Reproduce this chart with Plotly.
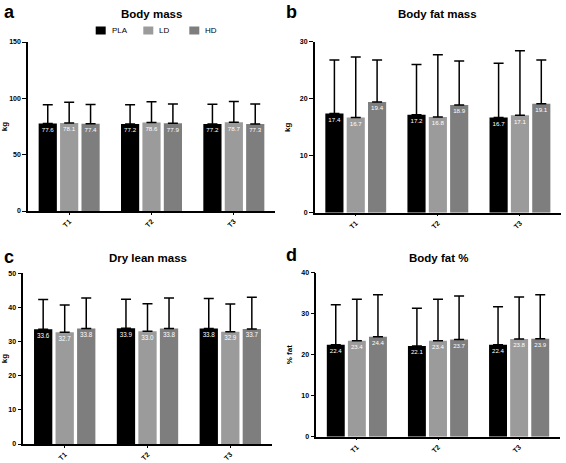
import plotly.graph_objects as go

times = ["T1", "T2", "T3"]
groups = ["PLA", "LD", "HD"]
colors = {"PLA": "#000000", "LD": "#9b9b9b", "HD": "#7e7e7e"}

# Body mass (kg)
bm_mean = {"PLA": [77.6, 77.2, 77.2], "LD": [78.1, 78.6, 78.7], "HD": [77.4, 77.9, 77.3]}
bm_sd = {"PLA": [16.6, 17.0, 17.6], "LD": [18.4, 18.4, 18.6], "HD": [17.1, 17.1, 17.7]}
# Body fat mass (kg)
bf_mean = {"PLA": [17.4, 17.2, 16.7], "LD": [16.7, 16.8, 17.1], "HD": [19.4, 18.9, 19.1]}
bf_sd = {"PLA": [9.4, 8.8, 9.5], "LD": [10.6, 10.9, 11.3], "HD": [7.4, 7.7, 7.7]}
# Dry lean mass (kg)
dl_mean = {"PLA": [33.6, 33.9, 33.8], "LD": [32.7, 33.0, 32.9], "HD": [33.8, 33.8, 33.7]}
dl_sd = {"PLA": [8.7, 8.5, 8.8], "LD": [8.0, 8.1, 8.1], "HD": [9.0, 9.0, 9.3]}
# Body fat %
pf_mean = {"PLA": [22.4, 22.1, 22.4], "LD": [23.4, 23.4, 23.8], "HD": [24.4, 23.7, 23.9]}
pf_sd = {"PLA": [9.8, 9.2, 9.3], "LD": [10.1, 10.1, 10.3], "HD": [10.2, 10.6, 10.7]}

W, H = 566, 463


def px(x):
    return x / W


def py(y):
    return 1 - y / H


panels = [
    dict(title="Body mass", mean=bm_mean, sd=bm_sd, ytitle="kg", yrange=[0, 150], dtick=50,
         xd=[px(28), px(275)], yd=[py(211), py(42)], ty=14),
    dict(title="Body fat mass", mean=bf_mean, sd=bf_sd, ytitle="kg", yrange=[0, 30], dtick=10,
         xd=[px(314.7), px(561)], yd=[py(212.7), py(41.7)], ty=14),
    dict(title="Dry lean mass", mean=dl_mean, sd=dl_sd, ytitle="kg", yrange=[0, 50], dtick=10,
         xd=[px(23.3), px(271.7)], yd=[py(444), py(273.3)], ty=258),
    dict(title="Body fat %", mean=pf_mean, sd=pf_sd, ytitle="% fat", yrange=[0, 40], dtick=10,
         xd=[px(316.3), px(559.7)], yd=[py(436.7), py(272.7)], ty=258),
]

FONT = "Liberation Sans"
fig = go.Figure()
annotations = []
shapes = []
for i, p in enumerate(panels):
    k = "" if i == 0 else str(i + 1)
    for g in groups:
        fig.add_trace(go.Bar(
            x=times, y=p["mean"][g], name=g,
            marker=dict(color=colors[g], line=dict(width=0)),
            error_y=dict(type="data", array=p["sd"][g], symmetric=False, arrayminus=[0, 0, 0],
                         color="#000000", thickness=1.5, width=5),
            text=[f"{v:.1f}" for v in p["mean"][g]],
            textposition="inside", insidetextanchor="end", textangle=0,
            textfont=dict(color="white", size=7, family=FONT),
            showlegend=False, hoverinfo="skip",
            xaxis="x" + k, yaxis="y" + k,
        ))
    fig.layout["xaxis" + k] = dict(
        domain=p["xd"], anchor="y" + k, range=[-0.5, 2.5], showline=True, linecolor="black", linewidth=1.5,
        ticks="outside", ticklen=2, tickcolor="black", tickwidth=1.2, tickangle=-45,
        tickfont=dict(family=FONT, size=7, color="black", weight="bold"), showgrid=False, zeroline=False)
    fig.layout["yaxis" + k] = dict(
        domain=p["yd"], anchor="x" + k, range=p["yrange"], dtick=p["dtick"], showline=True, linecolor="black",
        linewidth=1.5, ticks="outside", ticklen=4, tickcolor="black", tickwidth=1.2,
        tickfont=dict(family=FONT, size=7, color="black", weight="bold"), showgrid=False, zeroline=False,
        title=dict(text=p["ytitle"], font=dict(family=FONT, size=8, color="black", weight="bold"), standoff=8))
    xc = (p["xd"][0] + p["xd"][1]) / 2
    annotations.append(dict(text=p["title"], x=xc, y=py(p["ty"]), xref="paper", yref="paper",
                            showarrow=False, xanchor="center", yanchor="middle",
                            font=dict(family=FONT, size=11.5, color="black", weight="bold")))

letters = [("a", 2, 0), ("b", 284, 0), ("c", 2, 245), ("d", 284, 243)]
for t, x, y in letters:
    annotations.append(dict(text=t, x=px(x), y=py(y), xref="paper", yref="paper", showarrow=False,
                            xanchor="left", yanchor="top",
                            font=dict(family=FONT, size=18, color="black", weight="bold")))

# manual legend for panel a
legend_items = [("PLA", 95.7), ("LD", 143.3), ("HD", 189.3)]
for name, x0 in legend_items:
    shapes.append(dict(type="rect", xref="paper", yref="paper", x0=px(x0), x1=px(x0 + 10),
                       y0=py(34.5), y1=py(26.5), fillcolor=colors[name], line=dict(width=0)))
    annotations.append(dict(text=name, x=px(x0 + 14), y=py(30.5), xref="paper", yref="paper",
                            showarrow=False, xanchor="left", yanchor="middle",
                            font=dict(family=FONT, size=8, color="black")))

fig.update_layout(
    width=W, height=H, margin=dict(l=0, r=0, t=0, b=0, autoexpand=False),
    plot_bgcolor="white", paper_bgcolor="white",
    font=dict(family=FONT, color="black"),
    barmode="group", bargap=0.22, bargroupgap=0.15,
    annotations=annotations, shapes=shapes,
    showlegend=False,
)

fig.write_html("out.html", config={"displayModeBar": False},
               post_script="document.body.style.margin='0px';")
